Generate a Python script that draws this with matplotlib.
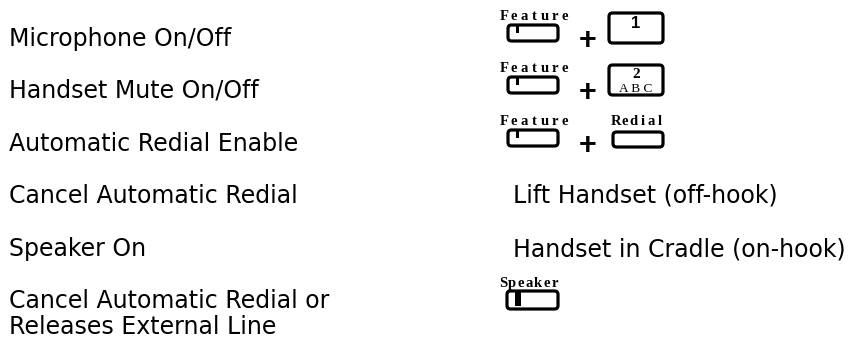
import matplotlib
matplotlib.use("Agg")
import matplotlib.pyplot as plt
from matplotlib.patches import FancyBboxPatch, Rectangle

# ── data ─────────────────────────────────────────────────────────────────────
ACTIONS = [
    "Microphone On/Off",
    "Handset Mute On/Off",
    "Automatic Redial Enable",
    "Cancel Automatic Redial",
    "Speaker On",
    "Cancel Automatic Redial or\nReleases External Line",
]
# key sequence per row (None = plain text instead)
KEYS = [
    ["Feature", "1"],
    ["Feature", "2\nA B C"],
    ["Feature", "Redial"],
    None,
    None,
    ["Speaker"],
]
RIGHT_TEXT = [None, None, None, "Lift Handset (off-hook)", "Handset in Cradle (on-hook)", None]

# ── layout / style ───────────────────────────────────────────────────────────
W, H = 848, 345
ROW_Y = [39, 91, 144, 196, 249, 301]
LINE_GAP = 26
TEXT_FS = 17
SANS = "DejaVu Sans"
SERIF = "Liberation Serif"
LW = 2.3

fig = plt.figure(figsize=(W / 100, H / 100), dpi=100)
ax = fig.add_axes([0, 0, 1, 1])
ax.set_xlim(0, W)
ax.set_ylim(H, 0)
ax.axis("off")


def spaced(text, x0, x1, y, fs=10.5):
    # letter-spaced small serif label spread over [x0, x1]
    n = len(text)
    step = (x1 - x0) / (n - 1) if n > 1 else 0
    for i, ch in enumerate(text):
        ax.text(x0 + i * step, y, ch, ha="center", va="baseline",
                fontsize=fs, family=SERIF, fontweight="bold")


def keybox(x0, y0, w, h, bar=None):
    ax.add_patch(FancyBboxPatch((x0, y0), w, h,
                                boxstyle="round,pad=0,rounding_size=3.5",
                                fc="white", ec="black", lw=LW))
    if bar is not None:
        bx, bw, bh = bar
        ax.add_patch(Rectangle((bx, y0), bw, bh, fc="black", ec="none"))


for y, label in zip(ROW_Y, ACTIONS):
    for i, line in enumerate(label.split("\n")):
        ax.text(9, y + i * LINE_GAP, line, ha="left", va="center",
                fontsize=TEXT_FS, family=SANS)

for y, txt in zip(ROW_Y, RIGHT_TEXT):
    if txt:
        ax.text(513, y, txt, ha="left", va="center", fontsize=TEXT_FS, family=SANS)

for y, keys in zip(ROW_Y, KEYS):
    if not keys:
        continue
    first = keys[0]
    if first == "Feature":
        spaced(first, 504, 565, y - 19)
        keybox(508, y - 14, 50, 16, bar=(515.5, 3.5, 7.5))
    elif first == "Speaker":
        spaced(first, 503, 555, y - 14)
        keybox(507, y - 10, 51, 18, bar=(515, 6, 15))
    if len(keys) < 2:
        continue
    ax.text(588, y + 2, "+", ha="center", va="center",
            fontsize=22, family="Liberation Sans", fontweight="bold")
    second = keys[1]
    if second == "Redial":
        spaced(second, 616, 660, y - 19)
        keybox(613, y - 12, 50, 15)
    else:
        keybox(609, y - 26, 54, 30)
        parts = second.split("\n")
        if len(parts) == 1:
            ax.text(636, y - 15.5, parts[0], ha="center", va="center",
                    fontsize=12, family="Liberation Sans", fontweight="bold")
        else:
            ax.text(636, y - 16, parts[0], ha="center", va="center",
                    fontsize=11, family=SERIF, fontweight="bold")
            ax.text(636, y - 2.5, parts[1], ha="center", va="center",
                    fontsize=9.5, family=SERIF)

fig.savefig("out.png", dpi=100)
